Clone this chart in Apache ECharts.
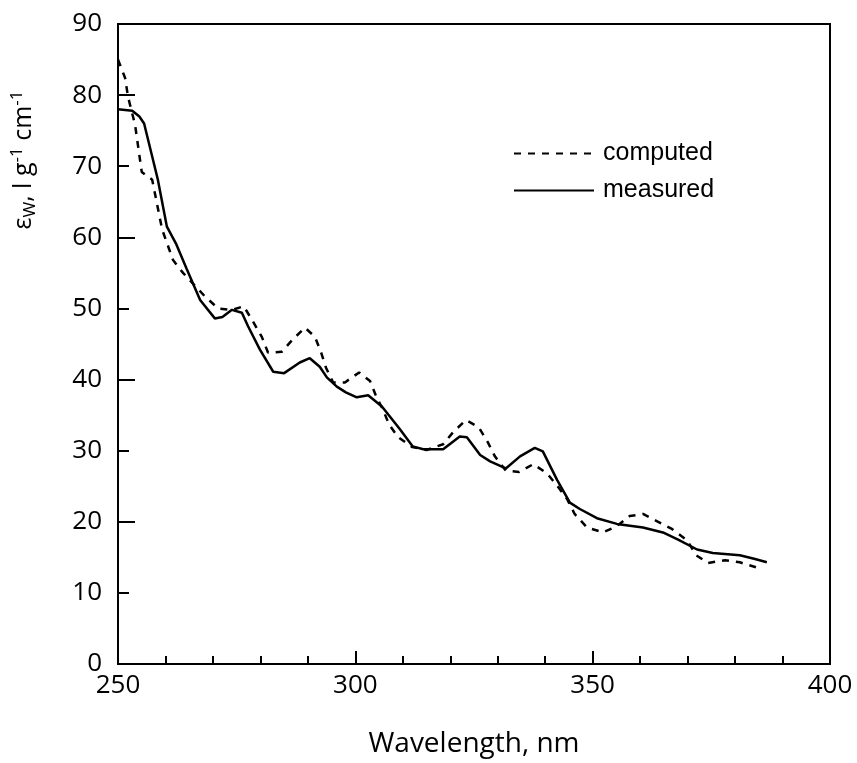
<!DOCTYPE html>
<html><head><meta charset="utf-8">
<script src="https://cdn.jsdelivr.net/npm/echarts@6/dist/echarts.min.js"></script>
<style>html,body{margin:0;padding:0;background:#fff}#c{width:857px;height:763px}</style>
</head><body><div id="c"></div>
<script>
const measuredX = [250,253,254.5,255.5,258.4,260.3,262.3,264.5,267.3,270.4,272,274,276.1,277.4,279.9,282.7,285,288.3,290.4,292.5,294,296.1,298,300.3,302.7,305.6,309.4,312.1,314.3,318.5,322,323.5,326.3,328.4,331.7,334.7,337.8,339.5,342.5,345.2,347.3,350.9,355.1,360.6,364.8,368,372,375.3,381,384,386.7];
const measuredY = [78,77.8,77,76,68.1,61.5,59,55.5,51.2,48.6,48.8,49.8,49.4,47.5,44.2,41.1,40.9,42.4,43,41.8,40.3,39,38.2,37.5,37.8,36.2,33,30.6,30.2,30.2,32,31.9,29.4,28.5,27.5,29.2,30.4,29.9,25.9,22.7,21.8,20.5,19.7,19.2,18.5,17.5,16.1,15.6,15.3,14.8,14.3];
const computedX = [250,251.5,252.1,253.6,255,257.2,259.3,261.6,263.7,266.2,268.3,271.1,274,276.5,278.4,280.3,281.6,284.5,286.9,289.4,291.5,292.8,293.8,295.3,297.8,300.8,303.1,304.3,305.8,307.1,309,312,315,318.5,320.6,323.3,326,327.9,329.4,331.7,334.5,337.5,340.4,342.6,344.6,346.2,348.8,352.2,355.1,357.8,360.6,363.8,366.7,369.9,371.8,374.3,377.9,381,384.4];
const computedY = [85,82.4,79.8,75.8,69.2,68.1,61.1,56.8,55,53.2,51.7,50,49.8,50.3,48.2,46,43.8,43.9,45.7,47.3,46,43.8,41.7,39.6,39.6,41,39.8,37.8,35.8,33.7,31.9,30.5,30.1,30.9,32.6,34.3,33.3,31.2,29.2,27.2,27,28.1,26.8,25,23.2,21.1,19.2,18.5,19.4,20.8,21.1,20,19,17.4,15.3,14.2,14.6,14.3,13.6];
const seriesNames = ['computed','measured'];
const xTitle = 'Wavelength, nm';

const chart = echarts.init(document.getElementById('c'));
const pair = (xs, ys) => xs.map((x, i) => [x, ys[i]]);
const tickFont = {fontFamily: 'Open Sans', fontSize: 26, color: '#000'};
chart.setOption({
  animation: false,
  grid: {left: 118, right: 27, top: 24, bottom: 98, show: true, borderColor: '#000', borderWidth: 2, backgroundColor: 'transparent'},
  legend: {
    left: 508, top: 136, orient: 'vertical', itemWidth: 80, itemHeight: 14, itemGap: 12,
    data: seriesNames.map(n => ({name: n, itemStyle: {opacity: 0}})),
    textStyle: {fontFamily: 'Liberation Sans', fontSize: 25, color: '#000', padding: [0,0,0,4]}
  },
  xAxis: {
    type: 'value', min: 250, max: 400, interval: 50,
    axisLine: {lineStyle: {color: '#000', width: 2}},
    axisTick: {inside: true, length: 13, lineStyle: {color: '#000', width: 2}},
    minorTick: {show: true, splitNumber: 5, length: 8, lineStyle: {color: '#000', width: 2}},
    splitLine: {show: false},
    axisLabel: Object.assign({margin: 9}, tickFont),
    name: xTitle, nameLocation: 'middle', nameGap: 66,
    nameTextStyle: {fontFamily: 'Open Sans', fontSize: 28, color: '#000'}
  },
  yAxis: [{
    type: 'value', min: 0, max: 90, interval: 10,
    axisLine: {lineStyle: {color: '#000', width: 2}},
    axisTick: {inside: true, length: 11, lineStyle: {color: '#000', width: 2}},
    splitLine: {show: false},
    axisLabel: Object.assign({margin: 16}, tickFont)
  }, {
    type: 'value', min: 0, max: 90, interval: 20, position: 'left', offset: 0,
    axisLine: {show: false},
    axisTick: {inside: true, length: 17, lineStyle: {color: '#000', width: 2}},
    splitLine: {show: false}, axisLabel: {show: false}
  }],
  graphic: [{
    type: 'text', x: 24, y: 160, rotation: Math.PI / 2,
    style: {
      text: '{a|ε}{s|W}{a|, l g}{p|-1}{a| cm}{p|-1}',
      align: 'center', verticalAlign: 'middle',
      rich: {
        a: {fontFamily: 'Open Sans', fontSize: 25, fill: '#000'},
        s: {fontFamily: 'Open Sans', fontSize: 17, fill: '#000', padding: [12,0,0,0]},
        p: {fontFamily: 'Open Sans', fontSize: 17, fill: '#000', padding: [0,0,14,0]}
      }
    }
  }],
  series: [{
    name: seriesNames[0], type: 'line', data: pair(computedX, computedY), symbol: 'none',
    lineStyle: {color: '#000', width: 2.5, type: [7, 7]}, itemStyle: {color: '#000'}
  }, {
    name: seriesNames[1], type: 'line', data: pair(measuredX, measuredY), symbol: 'none',
    lineStyle: {color: '#000', width: 2.5}, itemStyle: {color: '#000'}
  }]
});
</script></body></html>
